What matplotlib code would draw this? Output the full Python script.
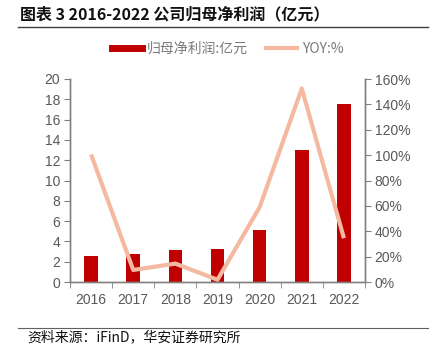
import matplotlib
matplotlib.use("Agg")
import matplotlib.pyplot as plt
from matplotlib.lines import Line2D

plt.rcParams['font.family'] = ['Noto Sans CJK SC', 'DejaVu Sans']

years = ["2016", "2017", "2018", "2019", "2020", "2021", "2022"]
profit = [2.56, 2.79, 3.18, 3.24, 5.12, 13.03, 17.57]
yoy = [100.5, 9.5, 14.5, 1.8, 59.0, 152.5, 34.5]
left_ticks = [0, 2, 4, 6, 8, 10, 12, 14, 16, 18, 20]
right_ticks = [0, 20, 40, 60, 80, 100, 120, 140, 160]

bar_color = "#C00000"
line_color = "#F5B9A2"
axis_color = "#808080"
text_color = "#595959"
tick_font = ['Liberation Sans', 'DejaVu Sans']

fig = plt.figure(figsize=(4.35, 3.47), dpi=100)
ax = fig.add_axes([70/435, 1-282/347, 295/435, 203/347])
ax2 = ax.twinx()

x = list(range(len(years)))
ax.bar(x, profit, width=0.32, color=bar_color, zorder=2)
ax2.plot(x, yoy, color=line_color, lw=3, zorder=3, solid_capstyle='butt')

ax.set_xlim(-0.5, len(years) - 0.5)
ax.set_ylim(0, 20)
ax2.set_ylim(0, 160)
ax.set_yticks(left_ticks)
ax.set_yticklabels([str(v) for v in left_ticks], family=tick_font)
ax2.set_yticks(right_ticks)
ax2.set_yticklabels([f"{v}%" for v in right_ticks], family=tick_font)
ax.set_xticks(x)
ax.set_xticklabels(years, family=tick_font)
ax.set_xticks([i - 0.5 for i in range(len(years) + 1)], minor=True)
ax.tick_params(axis='x', which='major', length=0, pad=8, labelsize=10, labelcolor=text_color)
ax.tick_params(axis='x', which='minor', length=4, color=axis_color, direction='out')
ax.tick_params(axis='y', length=4, color=axis_color, labelsize=10, labelcolor=text_color, pad=3)
ax2.tick_params(axis='y', length=4, color=axis_color, labelsize=10, labelcolor=text_color, pad=3)

for a in (ax, ax2):
    a.spines['top'].set_visible(False)
    for s in ('left', 'right', 'bottom'):
        a.spines[s].set_color(axis_color)
        a.spines[s].set_linewidth(1.0)
ax.set_zorder(ax2.get_zorder() - 1)
ax.patch.set_visible(False)

handles = [
    Line2D([0], [0], color=bar_color, lw=5),
    Line2D([0], [0], color=line_color, lw=3),
]
leg = fig.legend(handles, ["归母净利润:亿元", "YOY:%"], loc='center', bbox_to_anchor=(0.523, 1-49/347),
                 ncol=2, frameon=False, fontsize=10, labelcolor="#7a7a7a", handlelength=2.2,
                 columnspacing=1.3, handletextpad=0.35, borderpad=0)

fig.text(20/435, 1-14/347, "图表 3 2016-2022 公司归母净利润（亿元）", fontsize=11.5, fontweight='bold',
         va='center', ha='left', color='#111111')
fig.add_artist(Line2D([18/435, 428/435], [1-27/347, 1-27/347], color='#404040', lw=1))
fig.add_artist(Line2D([18/435, 428/435], [1-328/347, 1-328/347], color='#606060', lw=0.8))
fig.text(27/435, 1-337/347, "资料来源：iFinD，华安证券研究所", fontsize=10, va='center', ha='left', color='#111111')

fig.savefig("out.png", dpi=100)
